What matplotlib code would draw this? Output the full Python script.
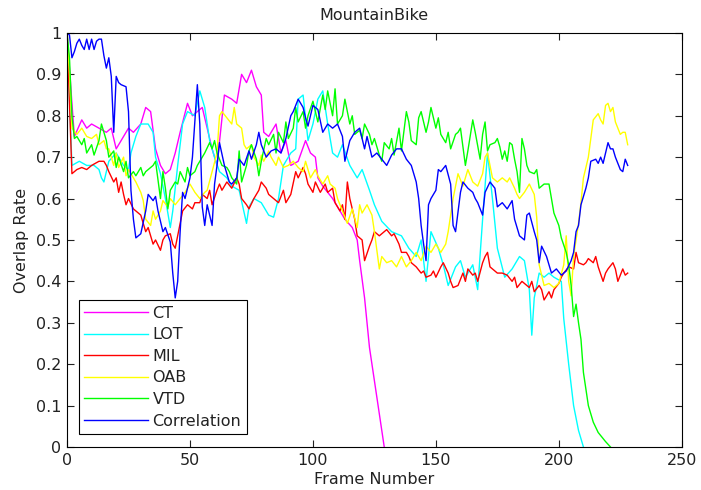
import matplotlib
matplotlib.use('Agg')
import matplotlib.pyplot as plt

# CT (magenta)
ct_frames = [0, 2, 3, 6, 8, 10, 13, 16, 18, 20, 22, 25, 27, 30, 32, 34, 36, 38, 40, 42, 44, 46, 49, 51,
             53, 55, 57, 59, 61, 64, 67, 69, 71, 73, 75, 77, 79, 80, 82, 85, 87, 89, 91, 94, 97, 99, 101,
             102, 104, 108, 110, 113, 116, 118, 119, 121, 123, 126, 129]
ct_rate = [1.0, 0.83, 0.75, 0.79, 0.77, 0.78, 0.77, 0.76, 0.77, 0.72, 0.74, 0.77, 0.76, 0.78, 0.82, 0.81,
           0.72, 0.68, 0.66, 0.67, 0.71, 0.76, 0.83, 0.80, 0.81, 0.82, 0.77, 0.72, 0.68, 0.85, 0.84, 0.83,
           0.90, 0.88, 0.91, 0.87, 0.85, 0.76, 0.75, 0.78, 0.71, 0.74, 0.68, 0.69, 0.74, 0.71, 0.70, 0.65,
           0.63, 0.60, 0.58, 0.55, 0.53, 0.50, 0.45, 0.36, 0.24, 0.12, 0.0]

# LOT (cyan)
lot_frames = [0, 2, 5, 8, 11, 13, 14, 15, 17, 20, 23, 25, 26, 28, 30, 33, 35, 36, 38, 40, 42, 43, 45, 47,
              49, 52, 54, 56, 58, 60, 62, 65, 67, 70, 73, 74, 76, 79, 82, 84, 86, 88, 91, 93, 94, 96, 98,
              100, 102, 104, 106, 108, 110, 112, 115, 118, 120, 123, 125, 128, 132, 136, 139, 142, 144,
              146, 148, 151, 153, 155, 158, 160, 162, 165, 167, 169, 171, 173, 175, 178, 181, 184, 186,
              188, 189, 190, 192, 194, 196, 198, 201, 202, 204, 206, 208, 210]
lot_rate = [1.0, 0.68, 0.69, 0.68, 0.68, 0.67, 0.65, 0.64, 0.69, 0.71, 0.68, 0.67, 0.71, 0.75, 0.78, 0.78,
            0.76, 0.70, 0.66, 0.60, 0.53, 0.57, 0.68, 0.78, 0.81, 0.80, 0.86, 0.82, 0.74, 0.70, 0.665,
            0.65, 0.63, 0.62, 0.54, 0.58, 0.60, 0.59, 0.56, 0.555, 0.60, 0.68, 0.71, 0.72, 0.84, 0.85,
            0.74, 0.78, 0.84, 0.86, 0.78, 0.71, 0.70, 0.73, 0.68, 0.65, 0.67, 0.62, 0.585, 0.545, 0.52,
            0.51, 0.48, 0.46, 0.50, 0.40, 0.52, 0.48, 0.44, 0.39, 0.435, 0.45, 0.41, 0.44, 0.38, 0.55,
            0.71, 0.60, 0.48, 0.41, 0.43, 0.46, 0.45, 0.38, 0.27, 0.36, 0.42, 0.41, 0.42, 0.41, 0.40,
            0.31, 0.20, 0.10, 0.04, 0.0]

# MIL (red)
mil_frames = [0, 2, 4, 6, 8, 10, 13, 15, 16, 17, 19, 20, 21, 22, 23, 24, 25, 27, 28, 30, 31, 32, 33, 35,
              36, 38, 39, 40, 42, 43, 44, 46, 47, 49, 51, 52, 54, 55, 57, 58, 59, 61, 62, 63, 65, 67, 69,
              70, 71, 73, 74, 76, 78, 79, 81, 82, 84, 86, 88, 89, 91, 93, 94, 96, 97, 98, 100, 101, 103,
              105, 106, 108, 109, 111, 112, 113, 114, 115, 117, 118, 119, 120, 121, 123, 124, 125, 127,
              130, 132, 133, 135, 136, 138, 139, 140, 142, 144, 145, 146, 148, 149, 150, 152, 153, 155,
              156, 157, 159, 161, 162, 163, 165, 166, 167, 169, 170, 171, 172, 173, 175, 177, 179, 181,
              182, 183, 185, 186, 188, 189, 190, 192, 193, 194, 196, 197, 198, 200, 201, 202, 204, 206,
              207, 208, 210, 211, 212, 214, 215, 216, 218, 219, 220, 222, 223, 224, 226, 227, 228]
mil_rate = [1.0, 0.66, 0.67, 0.675, 0.67, 0.68, 0.69, 0.69, 0.68, 0.665, 0.64, 0.65, 0.615, 0.64, 0.61,
            0.585, 0.60, 0.575, 0.57, 0.56, 0.54, 0.52, 0.53, 0.49, 0.50, 0.475, 0.50, 0.51, 0.515, 0.49,
            0.48, 0.54, 0.57, 0.585, 0.575, 0.59, 0.59, 0.61, 0.60, 0.62, 0.585, 0.62, 0.635, 0.62, 0.64,
            0.625, 0.65, 0.635, 0.60, 0.585, 0.575, 0.60, 0.62, 0.64, 0.625, 0.61, 0.60, 0.59, 0.62, 0.59,
            0.61, 0.665, 0.65, 0.675, 0.66, 0.635, 0.615, 0.64, 0.615, 0.635, 0.615, 0.625, 0.59, 0.57,
            0.585, 0.55, 0.64, 0.60, 0.55, 0.51, 0.505, 0.50, 0.45, 0.485, 0.50, 0.52, 0.51, 0.525, 0.51,
            0.515, 0.49, 0.47, 0.47, 0.46, 0.445, 0.435, 0.42, 0.425, 0.41, 0.415, 0.425, 0.41, 0.435,
            0.445, 0.42, 0.40, 0.385, 0.39, 0.42, 0.40, 0.43, 0.415, 0.42, 0.40, 0.445, 0.46, 0.47, 0.435,
            0.43, 0.42, 0.42, 0.415, 0.40, 0.41, 0.385, 0.40, 0.395, 0.385, 0.40, 0.375, 0.39, 0.38, 0.355,
            0.375, 0.36, 0.38, 0.395, 0.41, 0.42, 0.435, 0.43, 0.47, 0.445, 0.44, 0.445, 0.455, 0.445,
            0.46, 0.435, 0.40, 0.42, 0.43, 0.445, 0.43, 0.40, 0.43, 0.415, 0.42]

# OAB (yellow)
oab_frames = [0, 1, 2, 4, 6, 8, 10, 12, 13, 15, 16, 17, 19, 20, 21, 23, 24, 25, 27, 28, 30, 31, 32, 34,
              35, 36, 38, 39, 41, 42, 44, 46, 48, 50, 52, 54, 56, 57, 59, 61, 62, 63, 65, 67, 68, 69, 71,
              72, 73, 75, 76, 78, 79, 80, 82, 83, 85, 86, 88, 90, 92, 94, 96, 97, 99, 101, 102, 104, 106,
              107, 109, 110, 112, 114, 116, 118, 119, 120, 122, 124, 125, 127, 128, 130, 132, 134, 136,
              138, 140, 142, 144, 146, 148, 150, 152, 154, 155, 157, 159, 161, 163, 165, 167, 169, 170,
              171, 173, 175, 177, 179, 180, 182, 183, 184, 186, 187, 188, 190, 191, 192, 194, 196, 198,
              200, 202, 203, 204, 205, 206, 208, 209, 210, 212, 213, 214, 216, 217, 218, 219, 220, 221,
              222, 223, 225, 226, 227, 228]
oab_rate = [1.0, 0.90, 0.77, 0.755, 0.77, 0.75, 0.745, 0.755, 0.73, 0.74, 0.72, 0.72, 0.68, 0.71, 0.675,
            0.70, 0.655, 0.67, 0.65, 0.64, 0.615, 0.595, 0.55, 0.535, 0.57, 0.55, 0.57, 0.595, 0.58, 0.60,
            0.585, 0.60, 0.615, 0.635, 0.615, 0.60, 0.615, 0.62, 0.665, 0.71, 0.80, 0.81, 0.795, 0.78,
            0.82, 0.78, 0.77, 0.73, 0.72, 0.73, 0.70, 0.68, 0.705, 0.69, 0.715, 0.70, 0.68, 0.70, 0.675,
            0.68, 0.69, 0.675, 0.665, 0.69, 0.65, 0.67, 0.655, 0.635, 0.655, 0.635, 0.625, 0.60, 0.57,
            0.54, 0.575, 0.53, 0.585, 0.565, 0.585, 0.56, 0.52, 0.43, 0.46, 0.445, 0.45, 0.435, 0.46,
            0.435, 0.45, 0.47, 0.45, 0.485, 0.47, 0.49, 0.47, 0.49, 0.52, 0.60, 0.66, 0.63, 0.67, 0.64,
            0.63, 0.66, 0.70, 0.71, 0.65, 0.64, 0.65, 0.64, 0.65, 0.625, 0.61, 0.60, 0.615, 0.625, 0.635,
            0.61, 0.555, 0.44, 0.39, 0.395, 0.385, 0.395, 0.44, 0.51, 0.40, 0.365, 0.46, 0.54, 0.59, 0.65,
            0.70, 0.745, 0.79, 0.805, 0.79, 0.78, 0.825, 0.83, 0.81, 0.82, 0.785, 0.755, 0.76, 0.76, 0.73]

# VTD (green)
vtd_frames = [0, 1, 2, 3, 4, 6, 7, 8, 10, 11, 13, 14, 15, 16, 17, 19, 20, 21, 23, 24, 25, 27, 28, 30, 31,
              32, 33, 35, 36, 38, 39, 40, 41, 42, 44, 45, 46, 48, 49, 50, 52, 53, 55, 56, 58, 59, 60, 61,
              63, 65, 66, 67, 69, 70, 71, 73, 74, 75, 77, 78, 79, 81, 82, 84, 85, 86, 88, 89, 90, 92, 93,
              94, 96, 97, 98, 100, 101, 102, 104, 105, 106, 108, 109, 110, 112, 113, 115, 116, 117, 119,
              120, 121, 123, 124, 125, 127, 128, 129, 131, 132, 133, 135, 136, 138, 139, 140, 142, 143,
              144, 146, 147, 148, 150, 151, 152, 154, 155, 156, 158, 159, 160, 162, 163, 165, 166, 168,
              169, 170, 171, 172, 174, 175, 176, 177, 178, 179, 180, 181, 182, 183, 184, 185, 186, 187,
              188, 190, 191, 192, 194, 196, 197, 198, 200, 201, 203, 204, 205, 206, 207, 208, 209, 210,
              212, 214, 216, 219, 221]
vtd_rate = [1.0, 0.94, 0.80, 0.745, 0.75, 0.73, 0.745, 0.71, 0.73, 0.705, 0.74, 0.78, 0.76, 0.74, 0.70,
            0.715, 0.675, 0.70, 0.665, 0.69, 0.65, 0.665, 0.655, 0.675, 0.655, 0.665, 0.67, 0.68, 0.69,
            0.60, 0.665, 0.625, 0.575, 0.62, 0.64, 0.635, 0.665, 0.64, 0.675, 0.655, 0.665, 0.68, 0.70,
            0.71, 0.735, 0.72, 0.74, 0.71, 0.68, 0.675, 0.665, 0.65, 0.635, 0.715, 0.64, 0.68, 0.715,
            0.73, 0.695, 0.655, 0.69, 0.745, 0.73, 0.755, 0.71, 0.76, 0.735, 0.785, 0.745, 0.77, 0.82,
            0.785, 0.81, 0.77, 0.80, 0.835, 0.81, 0.785, 0.85, 0.815, 0.86, 0.80, 0.865, 0.78, 0.80, 0.84,
            0.78, 0.80, 0.755, 0.765, 0.745, 0.78, 0.755, 0.73, 0.745, 0.705, 0.69, 0.735, 0.72, 0.745,
            0.705, 0.77, 0.715, 0.81, 0.785, 0.74, 0.73, 0.795, 0.81, 0.76, 0.785, 0.82, 0.77, 0.795,
            0.755, 0.735, 0.76, 0.72, 0.755, 0.76, 0.77, 0.68, 0.715, 0.79, 0.76, 0.695, 0.755, 0.785,
            0.715, 0.73, 0.735, 0.745, 0.725, 0.695, 0.715, 0.69, 0.735, 0.73, 0.695, 0.665, 0.615, 0.745,
            0.72, 0.68, 0.665, 0.66, 0.67, 0.625, 0.635, 0.635, 0.60, 0.565, 0.535, 0.505, 0.47, 0.44,
            0.39, 0.315, 0.345, 0.30, 0.26, 0.18, 0.10, 0.06, 0.035, 0.013, 0.0]

# Correlation (blue)
cor_frames = [0, 1, 2, 3, 4, 5, 6, 7, 8, 9, 10, 11, 12, 13, 14, 15, 16, 17, 18, 19, 20, 21, 22, 24, 25,
              26, 27, 28, 30, 32, 33, 35, 36, 37, 39, 40, 42, 43, 44, 45, 46, 47, 48, 50, 51, 53, 54, 55,
              56, 57, 59, 60, 61, 62, 64, 66, 67, 69, 70, 72, 74, 75, 77, 78, 79, 81, 83, 85, 87, 89, 91,
              92, 94, 96, 97, 98, 100, 102, 104, 106, 108, 110, 112, 113, 115, 117, 119, 121, 122, 124,
              126, 128, 130, 132, 134, 136, 138, 140, 142, 143, 144, 145, 146, 147, 148, 150, 151, 152,
              154, 156, 157, 158, 160, 161, 163, 165, 166, 167, 169, 170, 172, 174, 175, 177, 179, 181,
              182, 184, 186, 187, 188, 190, 191, 192, 193, 195, 197, 199, 201, 203, 205, 206, 207, 208,
              209, 211, 212, 213, 215, 216, 217, 218, 220, 221, 222, 223, 225, 226, 227, 228]
cor_rate = [1.0, 0.995, 0.94, 0.955, 0.975, 0.985, 0.97, 0.96, 0.985, 0.96, 0.985, 0.96, 0.98, 0.985,
            0.985, 0.945, 0.915, 0.94, 0.895, 0.76, 0.895, 0.88, 0.875, 0.87, 0.81, 0.62, 0.55, 0.505,
            0.515, 0.57, 0.61, 0.595, 0.605, 0.57, 0.52, 0.53, 0.495, 0.42, 0.36, 0.40, 0.52, 0.615, 0.60,
            0.65, 0.70, 0.875, 0.78, 0.58, 0.535, 0.585, 0.535, 0.635, 0.68, 0.735, 0.68, 0.64, 0.635,
            0.65, 0.695, 0.68, 0.715, 0.695, 0.73, 0.76, 0.73, 0.70, 0.715, 0.72, 0.71, 0.745, 0.80, 0.81,
            0.84, 0.82, 0.795, 0.775, 0.825, 0.815, 0.76, 0.78, 0.77, 0.78, 0.75, 0.69, 0.74, 0.76, 0.77,
            0.72, 0.75, 0.70, 0.71, 0.695, 0.68, 0.705, 0.72, 0.72, 0.695, 0.68, 0.64, 0.60, 0.535, 0.49,
            0.45, 0.585, 0.60, 0.62, 0.67, 0.665, 0.68, 0.635, 0.535, 0.52, 0.615, 0.64, 0.625, 0.615,
            0.60, 0.59, 0.56, 0.615, 0.64, 0.625, 0.58, 0.59, 0.575, 0.595, 0.55, 0.51, 0.50, 0.56, 0.565,
            0.52, 0.50, 0.445, 0.485, 0.46, 0.42, 0.43, 0.415, 0.425, 0.45, 0.47, 0.52, 0.535, 0.585,
            0.625, 0.65, 0.69, 0.695, 0.685, 0.70, 0.685, 0.735, 0.72, 0.72, 0.70, 0.67, 0.665, 0.695, 0.68]

# MATLAB-like text is wide, DejaVu Sans comes closest
plt.rcParams['font.family'] = ['DejaVu Sans']
fs = 11.5

fig = plt.figure(figsize=(7.01, 4.9), dpi=100)
ax = fig.add_axes([0.0956, 0.0878, 0.877, 0.845])

ax.plot(ct_frames, ct_rate, color='#ff00ff', lw=1.0, label='CT')
ax.plot(lot_frames, lot_rate, color='#00ffff', lw=1.0, label='LOT')
ax.plot(mil_frames, mil_rate, color='#ff0000', lw=1.0, label='MIL')
ax.plot(oab_frames, oab_rate, color='#ffff00', lw=1.0, label='OAB')
ax.plot(vtd_frames, vtd_rate, color='#00ff00', lw=1.0, label='VTD')
ax.plot(cor_frames, cor_rate, color='#0000ff', lw=1.0, label='Correlation')

ax.set_xlim(0, 250)
ax.set_ylim(0, 1)
ax.set_xticks([0, 50, 100, 150, 200, 250])
ax.set_yticks([i / 10 for i in range(11)])
ax.set_yticklabels(['0', '0.1', '0.2', '0.3', '0.4', '0.5', '0.6', '0.7', '0.8', '0.9', '1'])
ax.tick_params(direction='in', top=True, right=True, length=5, labelsize=fs, pad=4,
               colors='#222222')

ax.set_title('MountainBike', fontsize=fs, pad=9, color='#222222')
ax.set_xlabel('Frame Number', fontsize=fs, labelpad=3, color='#222222')
ax.set_ylabel('Overlap Rate', fontsize=fs, labelpad=5, color='#222222')

leg = ax.legend(loc='lower left', bbox_to_anchor=(0.019, 0.031), borderaxespad=0,
                fontsize=fs, handlelength=3.97, handletextpad=0.3, labelspacing=0.41,
                fancybox=False, framealpha=1, edgecolor='black', borderpad=0.35)
leg.get_frame().set_linewidth(0.8)
for t in leg.get_texts():
    t.set_color('#222222')

fig.savefig('out.png', dpi=100)
